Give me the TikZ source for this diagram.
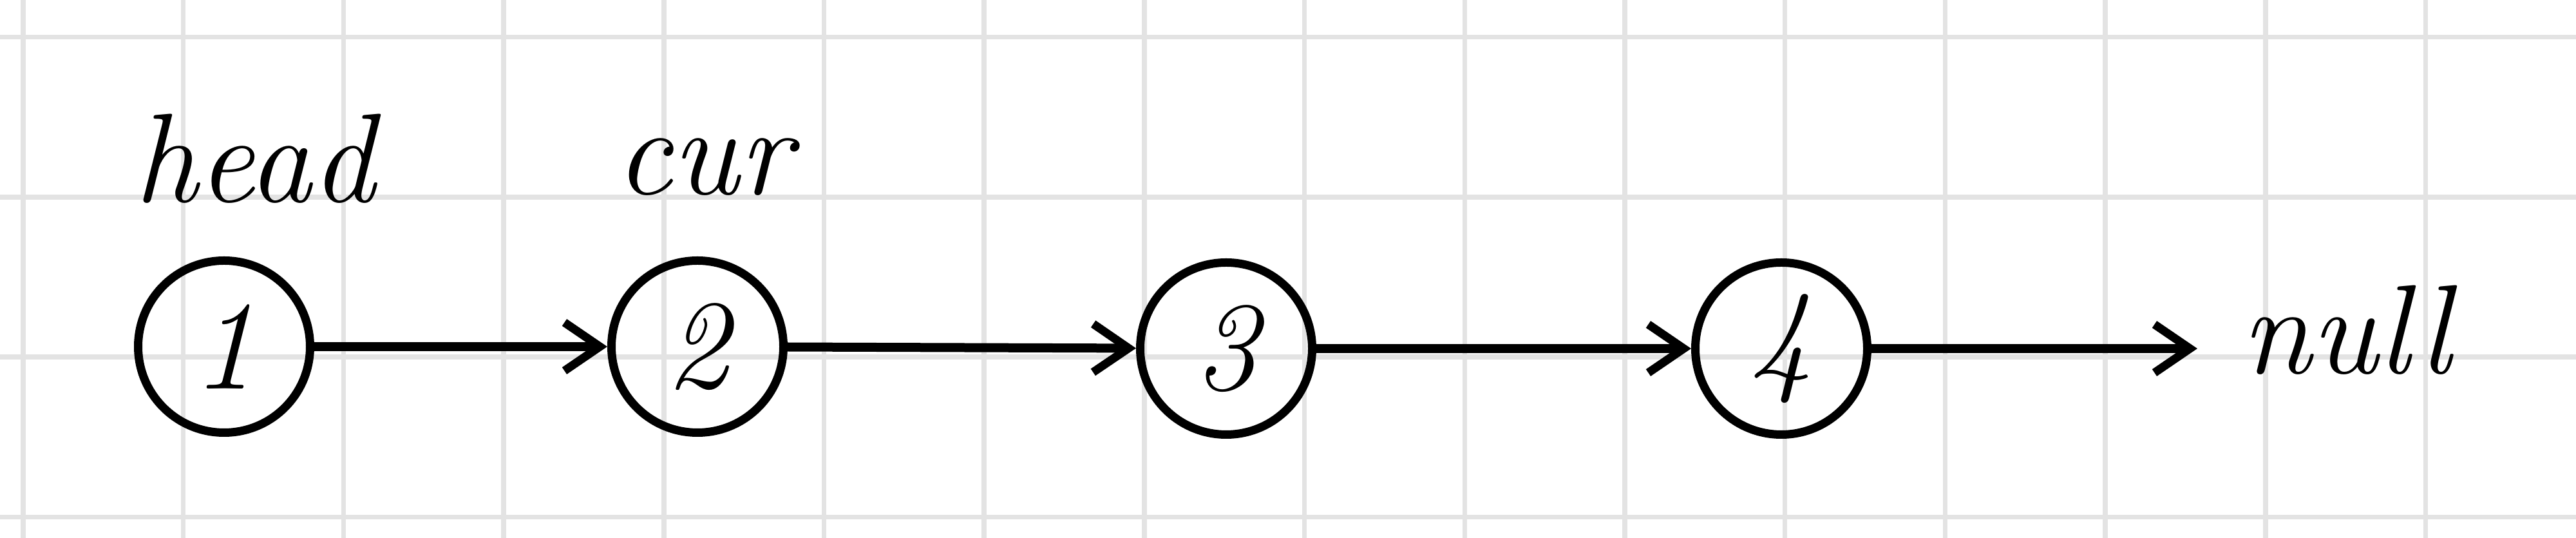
\documentclass[tikz,border=0pt]{standalone}
\usetikzlibrary{arrows.meta,positioning}

\begin{document}
\begin{tikzpicture}[
  >={Straight Barb[length=5.5mm, width=7.5mm, line width=1.3mm]},
  font=\fontsize{56}{60}\selectfont\itshape,
  % paper grid
  gridline/.style = {line width=0.75mm, black!11},
  % list element
  elem/.style = {
    draw, circle,
    line width=1.3mm,
    minimum size=2.67cm,
    inner sep=0pt
  },
  link/.style = {->, line width=1.4mm},
  tag/.style = {anchor=base, inner sep=0pt}
]

% ---- canvas ----
\useasboundingbox (0,0) rectangle (40,8.35);
\fill[white] (0,0) rectangle (40,8.35);
\foreach \i in {0,...,15}
  \draw[gridline] (0.36+\i*2.487,0) -- (0.36+\i*2.487,8.35);
\foreach \j in {0.325,2.81,5.29,7.775}
  \draw[gridline] (0,\j) -- (40,\j);

% ---- nodes ----
\node[elem] (n1) at (3.48,2.97)  {1};
\node[elem] (n2) at (10.83,2.97) {2};
\node[elem] (n3) at (19.04,2.94) {3};
\node[elem] (n4) at (27.66,2.94) {4};

\coordinate (nullend) at (34.12,2.94);
\node[tag, anchor=base west] (nul) at (34.80,2.55) {null};

% pointers
\node[tag, above=0.84cm of n1, anchor=base, xshift=4.7mm] (head) {head};
\node[tag, above=0.96cm of n2, anchor=base, xshift=0.9mm] (cur) {cur};

% ---- arrows ----
\draw[link] (n1) -- (n2);
\draw[link] (n2) -- (n3);
\draw[link] (n3) -- (n4);
\draw[link] (n4) -- (nullend);

\end{tikzpicture}
\end{document}
